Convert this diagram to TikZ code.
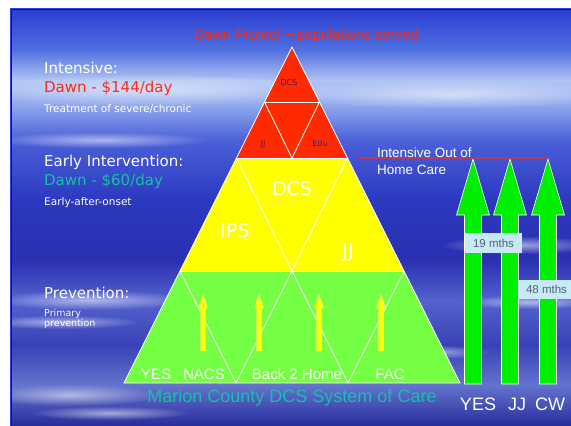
\documentclass[tikz,border=0pt]{standalone}
\usepackage{fontspec}
\usetikzlibrary{fadings}
\setmainfont{DejaVu Sans}
\newfontfamily\tah{Liberation Sans}
\newfontfamily\com{DejaVu Sans}
\definecolor{redlvl}{HTML}{FF2A00}
\definecolor{yellvl}{HTML}{FFFF00}
\definecolor{grnlvl}{HTML}{74FF42}
\definecolor{grnarr}{HTML}{00EE00}
\definecolor{ttlred}{HTML}{FF2A10}
\definecolor{teal}{HTML}{14C2A6}
\definecolor{navylbl}{HTML}{2C2099}
\definecolor{boxblue}{HTML}{C6EAF8}
\definecolor{boxtxt}{HTML}{56626A}
\definecolor{redline}{HTML}{B83A58}
\definecolor{frameblue}{HTML}{2E3EE0}
\definecolor{framedark}{HTML}{101850}
\tikzfading[name=softcloud, inner color=transparent!0, outer color=transparent!100]
\begin{document}
\begin{tikzpicture}[x=1pt,y=-1pt,
  lefthead/.style={text=white,inner sep=0pt,anchor=west,font=\com\fontsize{15}{17}\selectfont},
  leftsmall/.style={text=white,inner sep=0pt,anchor=west,font=\com\fontsize{10.5}{12}\selectfont},
  redlbl/.style={text=navylbl,inner sep=0pt,font=\com\fontsize{8}{9}\selectfont},
  yellbl/.style={text=white,inner sep=0pt,font=\com\fontsize{19}{21}\selectfont},
  grnlbl/.style={text=white,inner sep=0pt,font=\tah\fontsize{15}{17}\selectfont},
  botlbl/.style={text=white,inner sep=0pt,font=\tah\fontsize{18}{20}\selectfont},
  mthbox/.style={fill=boxblue,text=boxtxt,inner sep=0pt,font=\tah\fontsize{11.5}{13}\selectfont},
  ttltxt/.style={text=ttlred,inner sep=0pt,anchor=base west,font=\tah\fontsize{14.5}{16}\selectfont},
  edge/.style={white,line width=0.8pt,line join=miter},
  bigarrow/.style={fill=grnarr,draw=white,line width=0.6pt},
  smallarrow/.style={fill=yellvl,draw=yellow!40!white,line width=0.4pt},
  cloud/.style={white,opacity=0.55,path fading=softcloud}
]
\useasboundingbox (0,0) rectangle (571,426);
\fill[white] (0,0) rectangle (571,426);
% sky background
\shade[top color={rgb,255:red,42;green,60;blue,208},bottom color={rgb,255:red,80;green,112;blue,224}] (10,8) rectangle (571,50.5);
\shade[top color={rgb,255:red,80;green,112;blue,224},bottom color={rgb,255:red,176;green,196;blue,244}] (10,50) rectangle (571,80.5);
\shade[top color={rgb,255:red,176;green,196;blue,244},bottom color={rgb,255:red,144;green,168;blue,238}] (10,80) rectangle (571,105.5);
\shade[top color={rgb,255:red,144;green,168;blue,238},bottom color={rgb,255:red,74;green,96;blue,216}] (10,105) rectangle (571,140.5);
\shade[top color={rgb,255:red,74;green,96;blue,216},bottom color={rgb,255:red,44;green,56;blue,192}] (10,140) rectangle (571,200.5);
\shade[top color={rgb,255:red,44;green,56;blue,192},bottom color={rgb,255:red,42;green,48;blue,176}] (10,200) rectangle (571,260.5);
\shade[top color={rgb,255:red,42;green,48;blue,176},bottom color={rgb,255:red,84;green,98;blue,206}] (10,260) rectangle (571,300.5);
\shade[top color={rgb,255:red,84;green,98;blue,206},bottom color={rgb,255:red,56;green,66;blue,182}] (10,300) rectangle (571,345.5);
\shade[top color={rgb,255:red,56;green,66;blue,182},bottom color={rgb,255:red,100;green,116;blue,206}] (10,345) rectangle (571,385.5);
\shade[top color={rgb,255:red,100;green,116;blue,206},bottom color={rgb,255:red,40;green,44;blue,156}] (10,385) rectangle (571,426);
% cloud streaks
\fill[cloud] (90,300) ellipse (100 and 10);
\fill[cloud] (60,322) ellipse (80 and 7);
\fill[cloud] (70,395) ellipse (90 and 11);
\fill[cloud] (110,413) ellipse (80 and 7);
\fill[cloud] (520,245) ellipse (80 and 9);
\fill[cloud] (530,302) ellipse (70 and 7);
\fill[cloud] (430,352) ellipse (60 and 7);
\fill[cloud] (150,90) ellipse (190 and 16);
\fill[cloud] (450,94) ellipse (180 and 14);
\fill[cloud] (100,140) ellipse (110 and 8);
% frame
\draw[frameblue,line width=1pt] (10,8.5) -- (571,8.5);
\draw[frameblue,line width=1pt] (10.5,8) -- (10.5,426);
\draw[framedark,line width=0.9pt] (11.5,9.7) -- (571,9.7);
\draw[framedark,line width=0.9pt] (11.7,9.5) -- (11.7,426);
% pyramid levels
\coordinate (apex) at (292,47);
\coordinate (r1l) at (264.5,102);
\coordinate (r1r) at (319.5,102);
\coordinate (r2l) at (236.5,158);
\coordinate (r2m) at (292,158);
\coordinate (r2r) at (347.5,158);
\coordinate (y2l) at (180,271);
\coordinate (y2m) at (292,271);
\coordinate (y2r) at (404,271);
\coordinate (g2l) at (124,383);
\coordinate (g2a) at (236,383);
\coordinate (g2b) at (348,383);
\coordinate (g2r) at (460,383);
\fill[redlvl] (apex) -- (r2l) -- (r2r) -- cycle;
\fill[yellvl] (r2l) -- (r2r) -- (y2r) -- (y2l) -- cycle;
\fill[grnlvl] (y2l) -- (y2r) -- (g2r) -- (g2l) -- cycle;
\draw[edge] (apex) -- (g2l) -- (g2r) -- cycle;
\draw[edge] (r1l) -- (r1r);
\draw[edge] (r2l) -- (r2r);
\draw[edge] (y2l) -- (y2r);
\draw[edge] (r1l) -- (r2m) -- (r1r);
\draw[edge] (r2l) -- (y2m) -- (r2r);
\draw[edge] (y2l) -- (g2a) -- (y2m) -- (g2b) -- (y2r);
% small yellow arrows
\foreach \ax in {203,259,319,381}{
  \draw[smallarrow] (\ax,295) -- (\ax+4.5,308) -- (\ax+2.5,308) -- (\ax+2.5,351)
     -- (\ax-2.5,351) -- (\ax-2.5,308) -- (\ax-4.5,308) -- cycle;
}
% big green arrows
\foreach \bx in {473,510,548}{
  \draw[bigarrow] (\bx,159) -- (\bx+16.5,215) -- (\bx+8.5,215) -- (\bx+8.5,384)
     -- (\bx-8.5,384) -- (\bx-8.5,215) -- (\bx-16.5,215) -- cycle;
}
\draw[redline,line width=1.2pt] (358,158) -- (547,158);
% month boxes
\node[mthbox,minimum width=57pt,minimum height=20pt] (m19) at (493.5,243) {19 mths};
\node[mthbox,minimum width=57pt,minimum height=19pt] (m48) at (546.5,289.5) {48 mths};
% title
\node[ttltxt] (t1) at (194,39) {Dawn Project};
\node[ttltxt] (tdash) at ([xshift=4pt]t1.base east) {–};
\node[ttltxt] (t2) at ([xshift=16.1pt]t1.base east) {populations served};
\draw[ttlred,line width=1.1pt] ([xshift=4pt,yshift=4pt]t1.base east) -- ([xshift=12pt,yshift=4pt]t1.base east);
% left texts
\node[lefthead] (int) at (44,68) {Intensive:};
\node[lefthead,text=ttlred] (intc) at (44,88) {Dawn - \$144/day};
\node[leftsmall] (intd) at (44,109) {Treatment of severe/chronic};
\node[lefthead] (ei) at (44,162) {Early Intervention:};
\node[lefthead,text=teal] (eic) at (44,181) {Dawn - \$60/day};
\node[leftsmall] (eid) at (44,203) {Early-after-onset};
\node[lefthead] (pre) at (44,293) {Prevention:};
\node[leftsmall,align=left,anchor=north west,font=\com\fontsize{9.5}{11}\selectfont] (pred) at (44,309) {Primary\\[-1pt]prevention};
% pyramid labels
\node[redlbl] (ldcs) at (289,83) {DCS};
\node[redlbl] (ljj) at (263,144) {JJ};
\node[redlbl] (ledu) at (320,144) {Edu};
\node[yellbl] (ydcs) at (292,189) {DCS};
\node[yellbl] (yips) at (235,231) {IPS};
\node[yellbl] (yjj) at (348,252) {JJ};
\node[grnlbl] (gyes) at (156,374) {YES};
\node[grnlbl] (gnacs) at (204,374) {NACS};
\node[grnlbl] (gb2h) at (297,374) {Back 2 Home};
\node[grnlbl] (gfac) at (390,374) {FAC};
\node[text=teal,inner sep=0pt,font=\tah\fontsize{18}{20}\selectfont] (marion) at (292,398) {Marion County DCS System of Care};
% right texts
\node[text=white,inner sep=0pt,anchor=west,align=left,font=\tah\fontsize{13.5}{17}\selectfont] (ioohc) at (377,161) {Intensive Out of\\Home Care};
\node[botlbl] (byes) at (478,404) {YES};
\node[botlbl] (bjj) at (517,404) {JJ};
\node[botlbl] (bcw) at (550,404) {CW};
\end{tikzpicture}
\end{document}
